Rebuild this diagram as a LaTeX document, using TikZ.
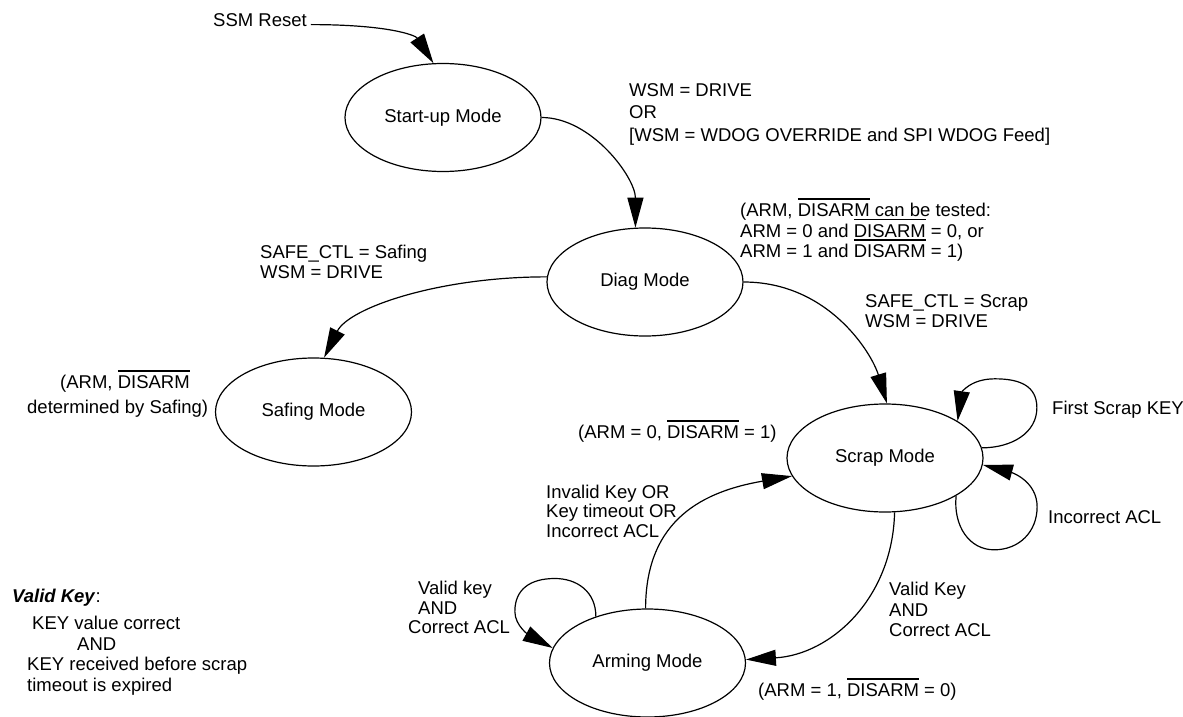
\documentclass[tikz,border=0pt]{standalone}
\usepackage{fontspec}
\setmainfont{Liberation Sans}
\usetikzlibrary{arrows.meta,shapes.geometric}
\newsavebox{\ovlbox}
\newcommand{\ovl}[1]{\sbox{\ovlbox}{#1}\rlap{\raisebox{17pt}[0pt][0pt]{\rule{\wd\ovlbox}{1.6pt}}}\usebox{\ovlbox}}
\begin{document}
\begin{tikzpicture}[x=1pt,y=-1pt,
  every node/.style={font=\fontsize{18.5}{20.5}\selectfont, inner sep=0pt},
  state/.style={ellipse, draw, line width=1.2pt, minimum width=196pt, minimum height=108pt},
  arr/.style={line width=1.2pt, -{Triangle[length=30pt,width=16pt]}},
  lbl/.style={anchor=north west, align=left},
  lbla/.style={anchor=base west}]
\fill[white] (0,0) rectangle (1183,717);
\useasboundingbox (0,0) rectangle (1183,717);

% states
\node[state] (startup) at (443,117.5) {Start-up Mode};
\node[state] (diag) at (645,282) {Diag Mode};
\node[state] (safing) at (313.5,412) {Safing Mode};
\node[state] (scrap) at (885,458) {Scrap Mode};
\node[state] (arming) at (647.5,663) {Arming Mode};

% texts
\node[lbla] (ssm) at (213,26.6) {SSM Reset};
\node[lbl] (wsm) at (629,83) {WSM = DRIVE\\[2pt]OR\\[2pt]{[}WSM = WDOG OVERRIDE and SPI WDOG Feed]};
\node[lbl] (test) at (740,203) {(ARM, \ovl{DISARM} can be tested:\\ARM = 0 and \ovl{DISARM} = 0, or\\ARM = 1 and \ovl{DISARM} = 1)};
\node[lbl] (safecond) at (260,245) {SAFE\_CTL = Safing\\[-0.5pt]WSM = DRIVE};
\node[lbl] (safeout) at (27,375) {\hspace*{33pt}(ARM, \ovl{DISARM}\\[4.5pt]determined by Safing)};
\node[lbl] (scrapcond) at (865,294) {SAFE\_CTL = Scrap\\WSM = DRIVE};
\node[lbla] (first) at (1052,414.6) {First Scrap KEY};
\node[lbla] (scrapout) at (578,438.6) {(ARM = 0, \ovl{DISARM} = 1)};
\node[lbla] (incacl) at (1048,523.6) {Incorrect ACL};
\node[lbl] (invalid) at (546,485) {Invalid Key OR\\[-1.2pt]Key timeout OR\\[-1.2pt]Incorrect ACL};
\node[lbl] (validarm) at (889,582) {Valid Key\\AND\\Correct ACL};
\node[lbl] (validloop) at (408,581) {\hspace*{10pt}Valid key\\[-1pt]\hspace*{10pt}AND\\[-1pt]Correct ACL};
\node[lbla] (armout) at (758,696.6) {(ARM = 1, \ovl{DISARM} = 0)};
\node[lbla] (vk) at (12,602.6) {\textbf{\textit{Valid Key}}:};
\node[lbl] (vkdef) at (27,616) {\hspace*{5pt}KEY value correct\\\hspace*{50pt}AND\\KEY received before scrap\\timeout is expired};

% connectors
\draw[arr] ([shift={(4pt,2pt)}]ssm.base east) .. controls +(77,0) and +(-18,-28) .. (startup.100);
\draw[arr] (startup.east) .. controls +(50,0) and +(0,-50) .. (diag.100);
\draw[arr] (diag.177) .. controls +(-108,0) and +(25,-50) .. (safing.79);
\draw[arr] (diag.east) .. controls +(85,0) and +(-15,-50) .. (scrap.88);
\draw[arr] (scrap.6) .. controls +(30,0) and +(0,25) .. ++(55,-40)
  .. controls +(0,-22) and +(25,0) .. ++(-42,-29)
  .. controls +(-25,0) and +(4,-28) .. (scrap.27);
\draw[arr] (scrap.-28) .. controls +(-3,30) and +(-25,0) .. ++(38,54)
  .. controls +(25,0) and +(0,25) .. ++(43,-43)
  .. controls +(0,-25) and +(30,8) .. (scrap.-4);
\draw[arr] (scrap.-80) .. controls +(-2,86) and +(85,-5) .. (arming.2);
\draw[arr] (arming.92) .. controls +(0,-90) and +(-87,15) .. (scrap.191);
\draw[arr] (arming.138) .. controls +(0,-25) and +(22,0) .. ++(-41,-38)
  .. controls +(-25,0) and +(0,-22) .. ++(-40,33)
  .. controls +(0,15) and +(-22,-12) .. (arming.171);
\end{tikzpicture}
\end{document}
